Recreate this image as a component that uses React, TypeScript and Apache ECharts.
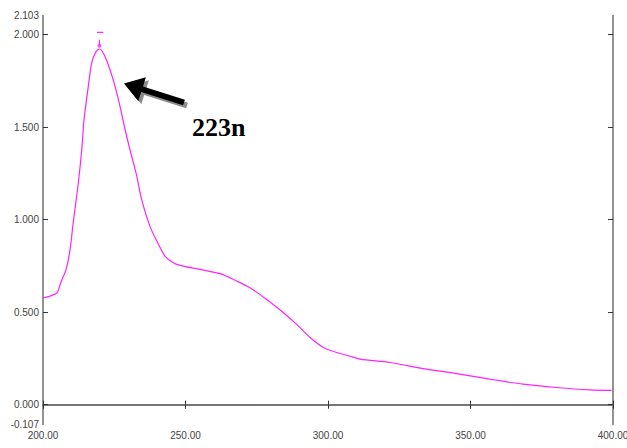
import React, { useEffect, useRef } from "react";
import * as echarts from "echarts";

const wavelengths = [200.0, 200.7, 203.1, 205.0, 206.2, 208.1, 209.5, 210.6, 212.4, 213.6, 214.4, 215.9, 217.1, 218.5, 219.8, 221.5, 223.5, 225.3, 227.0, 228.8, 230.5, 232.9, 234.6, 237.5, 240.5, 242.8, 245.7, 248.1, 255.1, 262.1, 268.0, 272.6, 278.5, 284.3, 289.0, 293.7, 298.4, 303.1, 307.5, 311.2, 321.8, 333.4, 345.1, 356.8, 368.5, 380.2, 391.9, 399.5];
const absorbance = [0.577, 0.579, 0.591, 0.606, 0.659, 0.731, 0.839, 0.983, 1.199, 1.379, 1.541, 1.720, 1.847, 1.905, 1.922, 1.890, 1.810, 1.720, 1.613, 1.487, 1.379, 1.235, 1.109, 0.965, 0.867, 0.803, 0.767, 0.753, 0.731, 0.708, 0.668, 0.632, 0.569, 0.498, 0.434, 0.363, 0.309, 0.282, 0.263, 0.246, 0.228, 0.195, 0.168, 0.138, 0.111, 0.093, 0.080, 0.077];

const peakDot: [number, number] = [219.8, 1.94];
const peakStem: [number, number][] = [[219.8, 1.945], [219.8, 1.972]];
const peakBar: [number, number][] = [[218.9, 2.012], [221.2, 2.012]];

const yLabelValues = [-0.107, 0, 0.5, 1, 1.5, 2, 2.103];
const yTickValues = [0, 0.5, 1, 1.5, 2];
const xTickLabels = ["200.00", "250.00", "300.00", "350.00", "400.00"];
const annotationText = "223n";

function arrowPoints(tip: number[], tail: number[], L: number, hw: number, sw: number) {
  const dx = tip[0] - tail[0];
  const dy = tip[1] - tail[1];
  const len = Math.hypot(dx, dy);
  const ux = dx / len, uy = dy / len;
  const nx = -uy, ny = ux;
  const bx = tip[0] - ux * L, by = tip[1] - uy * L;
  return [
    [tip[0], tip[1]],
    [bx + nx * hw, by + ny * hw],
    [bx + nx * sw, by + ny * sw],
    [tail[0] + nx * sw, tail[1] + ny * sw],
    [tail[0] - nx * sw, tail[1] - ny * sw],
    [bx - nx * sw, by - ny * sw],
    [bx - nx * hw, by - ny * hw],
  ];
}

export default function App() {
  const ref = useRef<HTMLDivElement>(null);
  useEffect(() => {
    document.body.style.margin = "0";
    if (!ref.current) return;
    const chart = echarts.init(ref.current, null, { renderer: "svg" });
    const axisLine = { show: true, lineStyle: { color: "#6e6e6e", width: 1.5 } };
    const labelStyle = { fontFamily: "Liberation Sans", fontSize: 10, color: "#444" };
    const tip = [124, 83.5];
    const tail = [184, 102.5];
    const main = arrowPoints(tip, tail, 19, 12.5, 3);
    const shadow = main.map((p) => [p[0] + 3, p[1] + 3]);
    chart.setOption({
      animation: false,
      backgroundColor: "#fff",
      grid: { left: 43, right: 14, top: 15.5, bottom: 23.5, containLabel: false, outerBoundsMode: "none" },
      xAxis: [
        {
          type: "value",
          min: 200,
          max: 400,
          interval: 50,
          position: "bottom",
          axisLine,
          axisTick: { show: true, inside: true, length: 4, lineStyle: { color: "#333" } },
          splitLine: { show: false },
          axisLabel: {
            ...labelStyle,
            margin: 6,
            formatter: (v: number) => xTickLabels[Math.round((v - 200) / 50)] ?? v.toFixed(2),
          },
          name: "nm",
          nameLocation: "middle",
          nameGap: 20,
          nameTextStyle: { ...labelStyle },
        },
        {
          type: "value",
          min: 200,
          max: 400,
          interval: 50,
          position: "top",
          axisLine,
          axisTick: { show: true, inside: true, length: 4, lineStyle: { color: "#333" } },
          axisLabel: { show: false },
          splitLine: { show: false },
        },
      ],
      yAxis: [
        {
          type: "value",
          min: -0.107,
          max: 2.103,
          position: "left",
          axisLine,
          axisTick: { show: true, inside: true, length: 5, customValues: yTickValues, lineStyle: { color: "#333" } },
          splitLine: { show: false },
          axisLabel: {
            ...labelStyle,
            margin: 4,
            customValues: yLabelValues,
            formatter: (v: number) => v.toFixed(3),
          },
        },
        {
          type: "value",
          min: -0.107,
          max: 2.103,
          position: "right",
          axisLine,
          axisTick: { show: true, inside: true, length: 5, customValues: yTickValues, lineStyle: { color: "#333" } },
          axisLabel: { show: false },
          splitLine: { show: false },
        },
      ],
      series: [
        {
          type: "line",
          data: wavelengths.map((w, i) => [w, absorbance[i]]),
          showSymbol: false,
          smooth: 0.3,
          lineStyle: { color: "#ff22ff", width: 1.2 },
        },
        {
          type: "line",
          data: peakStem,
          showSymbol: false,
          lineStyle: { color: "#ff22ff", width: 1.2 },
        },
        {
          type: "line",
          data: peakBar,
          showSymbol: false,
          lineStyle: { color: "#ff22ff", width: 1.2 },
        },
        {
          type: "scatter",
          data: [peakDot],
          symbolSize: 4,
          itemStyle: { color: "#ff22ff" },
        },
      ],
      graphic: [
        { type: "polygon", shape: { points: shadow }, style: { fill: "#8c8c8c" }, z: 100 },
        { type: "polygon", shape: { points: main }, style: { fill: "#000" }, z: 101 },
        {
          type: "text",
          x: 192,
          y: 114,
          z: 101,
          style: {
            text: annotationText,
            fontFamily: "Liberation Serif",
            fontWeight: "bold",
            fontSize: 26,
            fill: "#000",
          },
        },
      ],
    });
    return () => chart.dispose();
  }, []);
  return <div ref={ref} style={{ width: 627, height: 448 }} />;
}
